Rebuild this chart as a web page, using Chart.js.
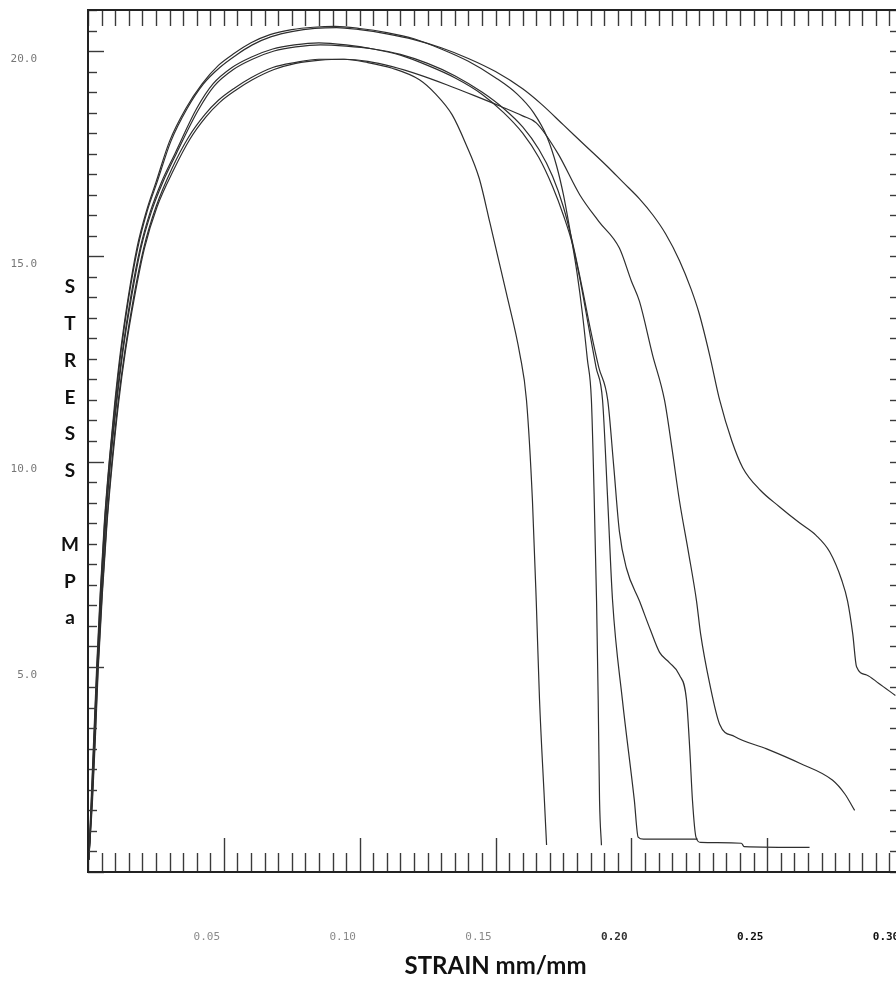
<!DOCTYPE html>
<html>
<head>
<meta charset="utf-8">
<title>Stress - strain</title>
<script src="https://cdn.jsdelivr.net/npm/chart.js@4.4.1/dist/chart.umd.min.js"></script>
<style>
  html, body { margin: 0; padding: 0; background: #fff; overflow: hidden; }
  #wrap { width: 930px; height: 987px; }
</style>
</head>
<body>
<div id="wrap"><canvas id="stressChart" width="930" height="987"></canvas></div>
<script>
// axis ticks
const xTickValues = [0.05, 0.10, 0.15, 0.20, 0.25, 0.30];
const xTickLabels = ['0.05', '0.10', '0.15', '0.20', '0.25', '0.30'];
const yTickValues = [5, 10, 15, 20];
const yTickLabels = ['5.0', '10.0', '15.0', '20.0'];
const yTitle = 'STRESS MPa';

// six specimens, strain (mm/mm) vs stress (MPa)
const strainA = [0.0003, 0.0016, 0.0027, 0.0037, 0.0052, 0.0069, 0.0088, 0.0110, 0.0136, 0.0168, 0.0205, 0.0250, 0.0310, 0.0370, 0.0430, 0.0480, 0.0540, 0.0600, 0.0680, 0.0760, 0.0850, 0.0940, 0.1030, 0.1120, 0.1220, 0.1280, 0.1340, 0.1390, 0.1440, 0.1480, 0.1510, 0.1540, 0.1590, 0.1614, 0.1636, 0.1650, 0.1662, 0.1680, 0.1688];
const stressA = [0.3, 1.8, 3.4, 5.0, 6.8, 8.5, 10.0, 11.4, 12.7, 14.0, 15.2, 16.2, 17.15, 17.9, 18.45, 18.8, 19.1, 19.35, 19.6, 19.72, 19.8, 19.8, 19.72, 19.58, 19.3, 18.95, 18.45, 17.75, 16.9, 15.8, 14.95, 14.1, 12.6, 11.5, 9.05, 6.6, 4.2, 1.75, 0.66];

const strainB = [0.0003, 0.0012, 0.0022, 0.0032, 0.0045, 0.0060, 0.0078, 0.0098, 0.0120, 0.0148, 0.0180, 0.0215, 0.0250, 0.0300, 0.0360, 0.0420, 0.0480, 0.0540, 0.0600, 0.0670, 0.0750, 0.0830, 0.0910, 0.1000, 0.1100, 0.1200, 0.1300, 0.1400, 0.1500, 0.1580, 0.1640, 0.1690, 0.1725, 0.1750, 0.1775, 0.1800, 0.1820, 0.1838, 0.1853, 0.1863, 0.1872, 0.1878, 0.1883, 0.1890];
const stressB = [0.3, 1.8, 3.4, 5.0, 6.8, 8.5, 10.0, 11.4, 12.7, 14.0, 15.2, 16.1, 16.8, 17.8, 18.6, 19.2, 19.65, 19.95, 20.2, 20.4, 20.52, 20.58, 20.6, 20.55, 20.45, 20.3, 20.05, 19.75, 19.35, 18.95, 18.5, 17.9, 17.2, 16.5, 15.6, 14.6, 13.6, 12.5, 11.5, 9.2, 6.6, 4.2, 1.75, 0.65];

const strainC = [0.0003, 0.0014, 0.0024, 0.0034, 0.0048, 0.0064, 0.0082, 0.0103, 0.0127, 0.0157, 0.0192, 0.0230, 0.0270, 0.0320, 0.0400, 0.0460, 0.0530, 0.0600, 0.0680, 0.0760, 0.0850, 0.0950, 0.1050, 0.1150, 0.1250, 0.1350, 0.1450, 0.1530, 0.1600, 0.1660, 0.1710, 0.1750, 0.1783, 0.1815, 0.1845, 0.1870, 0.1894, 0.1912, 0.1931, 0.1967, 0.2011, 0.2025, 0.2045, 0.2244];
const stressC = [0.3, 1.8, 3.4, 5.0, 6.8, 8.5, 10.0, 11.4, 12.7, 14.0, 15.2, 16.1, 16.8, 17.5, 18.6, 19.2, 19.6, 19.85, 20.05, 20.15, 20.2, 20.15, 20.05, 19.9, 19.65, 19.35, 18.95, 18.5, 18.0, 17.4, 16.7, 16.0, 15.3, 14.3, 13.2, 12.3, 11.5, 9.2, 6.6, 4.2, 1.75, 0.85, 0.8, 0.8];

const strainD = [0.0003, 0.0015, 0.0025, 0.0035, 0.0049, 0.0065, 0.0083, 0.0105, 0.0129, 0.0160, 0.0195, 0.0234, 0.0275, 0.0325, 0.0405, 0.0465, 0.0535, 0.0605, 0.0685, 0.0765, 0.0855, 0.0950, 0.1050, 0.1150, 0.1250, 0.1350, 0.1450, 0.1530, 0.1600, 0.1660, 0.1710, 0.1750, 0.1783, 0.1820, 0.1850, 0.1880, 0.1913, 0.1935, 0.1956, 0.1982, 0.2030, 0.2070, 0.2104, 0.2140, 0.2177, 0.2203, 0.2215, 0.2225, 0.2238, 0.2255, 0.2405, 0.2415, 0.2656];
const stressD = [0.3, 1.8, 3.4, 5.0, 6.8, 8.5, 10.0, 11.4, 12.7, 14.0, 15.2, 16.1, 16.8, 17.5, 18.55, 19.15, 19.55, 19.8, 20.0, 20.1, 20.15, 20.12, 20.05, 19.92, 19.7, 19.4, 19.0, 18.6, 18.15, 17.6, 16.95, 16.2, 15.35, 14.2, 13.2, 12.3, 11.5, 9.9, 8.3, 7.4, 6.6, 5.9, 5.35, 5.1, 4.8, 4.2, 3.0, 1.75, 0.85, 0.72, 0.7, 0.62, 0.6];

const strainE = [0.0003, 0.0013, 0.0023, 0.0033, 0.0046, 0.0061, 0.0079, 0.0100, 0.0122, 0.0150, 0.0183, 0.0218, 0.0254, 0.0305, 0.0365, 0.0425, 0.0485, 0.0545, 0.0605, 0.0675, 0.0755, 0.0835, 0.0915, 0.1000, 0.1100, 0.1200, 0.1300, 0.1400, 0.1500, 0.1600, 0.1670, 0.1750, 0.1830, 0.1910, 0.1970, 0.2030, 0.2080, 0.2126, 0.2177, 0.2220, 0.2250, 0.2288, 0.2325, 0.2370, 0.2410, 0.2475, 0.2545, 0.2620, 0.2680, 0.2730, 0.2775, 0.2796, 0.2815, 0.2829, 0.2866, 0.2910, 0.2972];
const stressE = [0.3, 1.8, 3.4, 5.0, 6.8, 8.5, 10.0, 11.4, 12.7, 14.0, 15.2, 16.1, 16.8, 17.8, 18.6, 19.2, 19.6, 19.9, 20.15, 20.35, 20.48, 20.55, 20.57, 20.52, 20.42, 20.28, 20.08, 19.82, 19.5, 19.08, 18.7, 18.2, 17.7, 17.2, 16.8, 16.4, 16.0, 15.55, 14.9, 14.2, 13.6, 12.6, 11.5, 10.5, 9.85, 9.3, 8.9, 8.5, 8.2, 7.8, 7.1, 6.6, 5.8, 5.0, 4.8, 4.6, 4.3];

const strainF = [0.0003, 0.0017, 0.0028, 0.0038, 0.0053, 0.0070, 0.0090, 0.0112, 0.0138, 0.0171, 0.0208, 0.0254, 0.0315, 0.0375, 0.0435, 0.0485, 0.0545, 0.0605, 0.0685, 0.0765, 0.0855, 0.0945, 0.1030, 0.1120, 0.1220, 0.1320, 0.1420, 0.1520, 0.1600, 0.1650, 0.1730, 0.1810, 0.1880, 0.1956, 0.2000, 0.2030, 0.2078, 0.2122, 0.2150, 0.2177, 0.2210, 0.2240, 0.2255, 0.2288, 0.2325, 0.2380, 0.2498, 0.2620, 0.2740, 0.2786, 0.2822];
const stressF = [0.3, 1.8, 3.4, 5.0, 6.8, 8.5, 10.0, 11.4, 12.7, 14.0, 15.2, 16.2, 17.1, 17.85, 18.4, 18.75, 19.05, 19.3, 19.55, 19.7, 19.78, 19.8, 19.75, 19.62, 19.42, 19.18, 18.92, 18.65, 18.42, 18.25, 17.5, 16.5, 15.85, 15.2, 14.4, 13.9, 12.6, 11.5, 10.3, 9.05, 7.8, 6.6, 5.8, 4.6, 3.6, 3.3, 3.0, 2.65, 2.24, 1.9, 1.5];

const specimens = [
    [strainA, stressA], [strainB, stressB], [strainC, stressC],
    [strainD, stressD], [strainE, stressE], [strainF, stressF]
];

const datasets = specimens.map(([strain, stress]) => ({
    data: strain.map((s, i) => ({ x: s, y: stress[i] })),
    borderColor: '#2e2e2e',
    borderWidth: 1.2,
    pointRadius: 0,
    fill: false,
    cubicInterpolationMode: 'monotone'
}));

// plotter style frame: ticks point into the plot on all four sides
const plotterFrame = {
    id: 'plotterFrame',
    afterDraw(chart) {
        const { ctx, chartArea, scales } = chart;
        const { left, right, top, bottom } = chartArea;
        const x = scales.x, y = scales.y;
        const seg = (x1, y1, x2, y2) => { ctx.beginPath(); ctx.moveTo(x1, y1); ctx.lineTo(x2, y2); ctx.stroke(); };

        ctx.save();
        ctx.strokeStyle = '#3a3a3a';
        ctx.lineWidth = 1.4;
        for (let i = 0; i <= 60; i++) {
            const px = Math.round(x.getPixelForValue(i * 0.005)) + 0.5;
            seg(px, bottom, px, bottom - (i % 10 === 0 ? 34 : 19));
            seg(px, top, px, top + 16);
        }
        for (let j = 0; j <= 42; j++) {
            const py = Math.round(y.getPixelForValue(j * 0.5)) + 0.5;
            seg(left, py, left + (j % 10 === 0 ? 16 : 9), py);
            seg(right, py, right - 13, py);
        }

        ctx.strokeStyle = '#222';
        ctx.lineWidth = 2;
        ctx.strokeRect(left, top, right - left, bottom - top);

        // stacked vertical axis title
        ctx.fillStyle = '#111';
        ctx.font = 'bold 19px Lato';
        ctx.textAlign = 'center';
        ctx.textBaseline = 'middle';
        yTitle.split('').forEach((ch, k) => {
            ctx.fillText(ch, 70, 287 + k * 36.8);
        });
        ctx.restore();
    }
};

new Chart(document.getElementById('stressChart'), {
    type: 'line',
    data: { datasets: datasets },
    options: {
        responsive: false,
        animation: false,
        events: [],
        layout: { padding: { top: 10, right: 27, bottom: 0, left: 0 } },
        plugins: {
            legend: { display: false },
            tooltip: { enabled: false }
        },
        scales: {
            x: {
                type: 'linear',
                min: 0,
                max: 0.30,
                // tick marks are drawn by the plugin; tickLength only spaces the labels
                grid: { display: false, drawTicks: true, tickLength: 59 },
                border: { display: false },
                afterBuildTicks: scale => { scale.ticks = xTickValues.map(v => ({ value: v })); },
                afterFit: scale => { scale.height = 115; },
                ticks: {
                    autoSkip: false,
                    maxRotation: 0,
                    padding: 0,
                    labelOffset: -17,
                    callback: (value, index) => xTickLabels[index],
                    color: ctx => ['#8a8a8a', '#8a8a8a', '#8a8a8a', '#333', '#111', '#111'][ctx.index],
                    font: ctx => ({ family: 'DejaVu Sans Mono', size: 11, weight: ctx.index >= 3 ? 'bold' : 'normal' })
                },
                title: {
                    display: true,
                    text: 'STRAIN mm/mm',
                    color: '#111',
                    font: { family: 'Lato', size: 24, weight: 'bold' },
                    padding: { top: 0, bottom: 6 }
                }
            },
            y: {
                type: 'linear',
                min: 0,
                max: 21,
                grid: { display: false, drawTicks: true, tickLength: 51 },
                border: { display: false },
                afterBuildTicks: scale => { scale.ticks = yTickValues.map(v => ({ value: v })); },
                afterFit: scale => { scale.width = 88; },
                ticks: {
                    autoSkip: false,
                    padding: 0,
                    labelOffset: 8,
                    callback: (value, index) => yTickLabels[index],
                    color: '#777',
                    font: { family: 'DejaVu Sans Mono', size: 11 }
                }
            }
        }
    },
    plugins: [plotterFrame]
});
</script>
</body>
</html>
